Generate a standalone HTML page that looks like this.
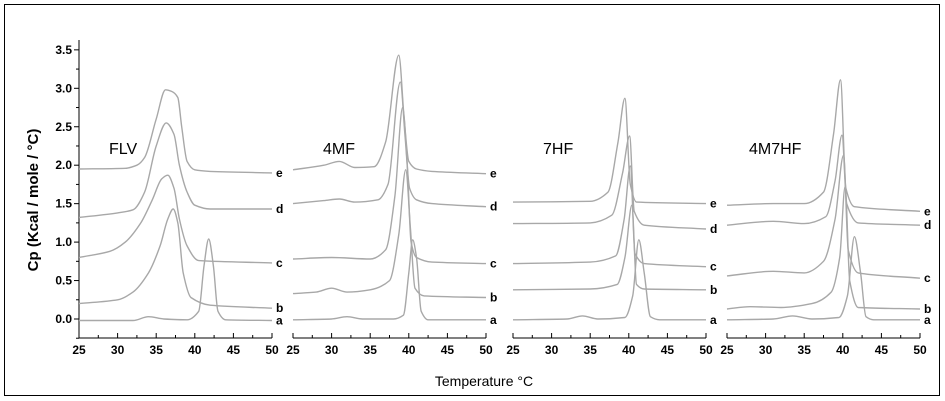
<!DOCTYPE html>
<html><head><meta charset="utf-8"><style>
body{margin:0;background:#fff;}
svg{display:block;font-family:"Liberation Sans",Arial,sans-serif;}
</style></head><body>
<svg id="chart" width="945" height="401" viewBox="0 0 945 401">
<rect x="4.5" y="4.5" width="935" height="391" fill="#fff" stroke="#000" stroke-width="1"/>
<text x="38" y="200" transform="rotate(-90 38 200)" text-anchor="middle" font-size="15" font-weight="bold">Cp (Kcal / mole / °C)</text>
<text x="484" y="386" text-anchor="middle" font-size="14">Temperature °C</text>
<g id="plots"></g>
</svg>
<script>
const panelNames=["FLV","4MF","7HF","4M7HF"];
const panelX0=[79,293,513,727];
const seriesLabels=["a","b","c","d","e"];
const xTicks=[25,30,35,40,45,50];
const yTicks=[0.0,0.5,1.0,1.5,2.0,2.5,3.0,3.5];
const yTickLabels=["0.0","0.5","1.0","1.5","2.0","2.5","3.0","3.5"];
// FLV
const flvT=[[25,32,34,36,39,40.5,41.2,41.8,42.4,43,44,50],[25,30,32,34,35.5,36.5,37.2,37.8,38.5,39.5,42,50],[25,29,31,33,34.5,35.7,36.5,37.3,38,39,40.5,50],[25,30,32,33.5,35,36.3,37.3,38,39,40,42,50],[25,31,32.5,33.5,35,36.2,37,37.8,38.3,39,40,42,50]];
const flvV=[[-0.02,-0.02,0.03,0,-0.01,0.1,0.7,1.04,0.7,0.1,-0.01,-0.02],[0.2,0.25,0.35,0.6,0.95,1.3,1.43,1.25,0.6,0.28,0.18,0.14],[0.8,0.88,1.0,1.25,1.55,1.82,1.87,1.7,1.3,0.95,0.76,0.73],[1.32,1.38,1.42,1.65,2.25,2.55,2.4,2.0,1.65,1.48,1.43,1.43],[1.95,1.96,2.0,2.1,2.6,2.98,2.96,2.88,2.5,2.05,1.94,1.92,1.9]];
// 4MF
const mfT=[[25,30,32,34,38,39.3,40,40.5,41,41.6,42.5,50],[25,28,30,32,35,37.5,38.7,39.6,40.2,40.8,42,50],[25,30,35,37,38.2,39.2,39.8,40.3,41,43,50],[25,29,31,33,36,37.3,38.9,39.5,40.1,41,43,50],[25,29,31,33,35.5,37,38.7,39.4,40,41,43,50]];
const mfV=[[-0.01,0,0.03,0,0,0.05,0.6,1.03,0.8,0.1,-0.01,-0.01],[0.33,0.35,0.4,0.35,0.38,0.5,1.1,1.94,1.2,0.4,0.3,0.28],[0.78,0.8,0.78,0.9,1.6,2.75,2.0,1.0,0.8,0.74,0.72],[1.5,1.54,1.56,1.52,1.55,1.75,3.08,2.4,1.7,1.55,1.5,1.46],[1.94,2.0,2.05,1.97,1.98,2.3,3.43,2.6,2.05,1.95,1.92,1.89]];
// 7HF
const hfT=[[25,32,34,36,39.5,40.5,41.3,42,42.8,44,50],[25,35,38.5,39.5,40.4,41,42,50],[25,35,38.3,39.4,40.2,40.8,42,50],[25,35,37.8,39.2,40.1,40.7,42,50],[25,35,37.3,38.6,39.5,40.2,41,50]];
const hfV=[[-0.01,0,0.04,0,0.02,0.3,1.03,0.6,0.03,-0.01,-0.01],[0.38,0.39,0.45,0.8,1.48,0.45,0.39,0.38],[0.72,0.74,0.82,1.3,1.99,0.85,0.72,0.68],[1.24,1.25,1.35,1.9,2.38,1.4,1.22,1.17],[1.52,1.53,1.65,2.3,2.87,1.75,1.52,1.5]];
// 4M7HF
const mhT=[[25,31,33.5,36,39.5,40.6,41.5,42.3,43,44,50],[25,28,32,36,38.5,39.6,40.3,40.9,42,50],[25,31,35,37.5,39,40.1,40.7,42,50],[25,31,35,37.8,39,39.9,40.5,42,50],[25,31,35,37.5,38.8,39.7,40.4,41.5,50]];
const mhV=[[-0.01,0,0.04,0,0.02,0.3,1.07,0.6,0.03,-0.01,-0.01],[0.13,0.16,0.15,0.2,0.35,0.8,1.72,0.5,0.15,0.13],[0.56,0.62,0.6,0.75,1.3,2.13,0.9,0.6,0.53],[1.22,1.27,1.24,1.33,1.8,2.39,1.5,1.25,1.22],[1.48,1.5,1.5,1.65,2.4,3.11,1.7,1.46,1.4]];

const allT=[flvT,mfT,hfT,mhT], allV=[flvV,mfV,hfV,mhV];
const NS="http://www.w3.org/2000/svg";
const g=document.getElementById("plots");
const PW=193, AXY=338;
function yS(v){return 319-v*76.9;}
function xS(p,t){return panelX0[p]+(t-25)/25*PW;}
function mk(tag,attrs,parent){const e=document.createElementNS(NS,tag);for(const k in attrs)e.setAttribute(k,attrs[k]);(parent||g).appendChild(e);return e;}
function pathFor(p,T,V){
  const xs=T.map(t=>xS(p,t)), ys=V.map(v=>yS(v)), n=xs.length;
  const sec=[];for(let i=0;i<n-1;i++)sec.push((ys[i+1]-ys[i])/(xs[i+1]-xs[i]));
  const m=[];
  for(let i=0;i<n;i++){
    if(i===0)m.push(sec[0]);else if(i===n-1)m.push(sec[n-2]);
    else if(sec[i-1]*sec[i]<=0)m.push(0);
    else{const a=sec[i-1],b=sec[i];m.push(2*a*b/(a+b));}
  }
  let d="M"+xs[0].toFixed(1)+","+ys[0].toFixed(1);
  for(let i=0;i<n-1;i++){
    const h=(xs[i+1]-xs[i])/3;
    d+=" C"+(xs[i]+h).toFixed(1)+","+(ys[i]+m[i]*h).toFixed(1)+" "+(xs[i+1]-h).toFixed(1)+","+(ys[i+1]-m[i+1]*h).toFixed(1)+" "+xs[i+1].toFixed(1)+","+ys[i+1].toFixed(1);
  }
  return d;
}
for(let p=0;p<4;p++){
  const pg=mk("g",{});
  
  
  const x0=panelX0[p];
  const ax=mk("line",{x1:x0,y1:AXY,x2:x0+PW,y2:AXY,stroke:"#000","stroke-width":1},pg);
  
  
  for(let t=25;t<=50;t+=2.5){
    const major=(t%5===0);
    const tk=mk("line",{x1:xS(p,t),y1:AXY,x2:xS(p,t),y2:AXY-(major?5:3),stroke:"#000","stroke-width":1},pg);
    
    
  }
  xTicks.forEach(t=>{
    const tl=mk("text",{x:xS(p,t),y:AXY+16,"text-anchor":"middle","font-size":12,"font-weight":"bold"},pg);
    tl.textContent=t;
    
    
  });
  if(p===0){
    const ya=mk("line",{x1:x0,y1:40,x2:x0,y2:AXY,stroke:"#000","stroke-width":1},pg);
    
    
    for(let v=-0.25;v<=3.6;v+=0.25){
      const major=Math.abs(v*2-Math.round(v*2))<1e-6 && v>=0;
      const tk=mk("line",{x1:x0,y1:yS(v),x2:x0-(major?5:3),y2:yS(v),stroke:"#000","stroke-width":1},pg);
      
      
    }
    yTicks.forEach((v,i)=>{
      const tl=mk("text",{x:x0-7,y:yS(v)+4,"text-anchor":"end","font-size":12,"font-weight":"bold"},pg);
      tl.textContent=yTickLabels[i];
      
      
    });
  }
  const title=mk("text",{x:x0+(p===3?22:30),y:154,"font-size":16},pg);
  title.textContent=panelNames[p];
  
  
  for(let s=0;s<5;s++){
    const T=allT[p][s],V=allV[p][s];
    const c=mk("path",{d:pathFor(p,T,V),fill:"none",stroke:"#a8a8a8","stroke-width":1.4},pg);
    
    
    const lb=mk("text",{x:x0+PW+4,y:yS(V[V.length-1])+4,"font-size":12,"font-weight":"bold"},pg);
    lb.textContent=seriesLabels[s];
    
    
  }
}
</script>
</body></html>
